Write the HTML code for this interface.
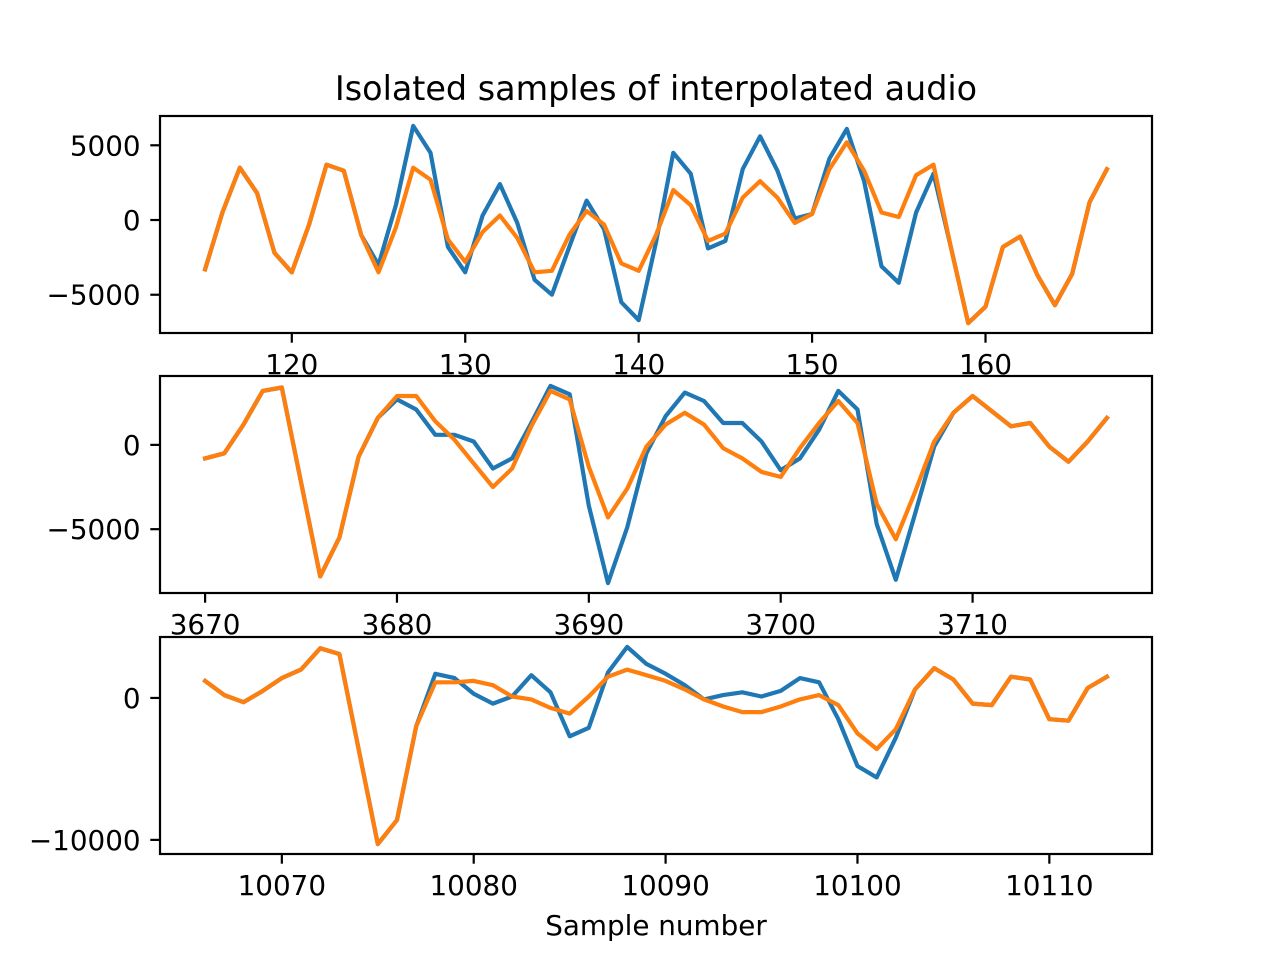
<!DOCTYPE html>
<html><head><meta charset="utf-8"><style>
body{margin:0;background:#fff}
svg{display:block;font-family:"DejaVu Sans","Liberation Sans",sans-serif}
</style></head><body>
<svg id="chart" width="1280" height="960" xmlns="http://www.w3.org/2000/svg">
<rect width="1280" height="960" fill="#fff"/>
<text x="656" y="100" font-size="33.4" text-anchor="middle">Isolated samples of interpolated audio</text>
<text x="656" y="935" font-size="27.8" text-anchor="middle">Sample number</text>
</svg>
<script>
const start1 = 115;
const blue1 = [-3300,500,3500,1800,-2200,-3500,-300,3700,3300,-1000,-3000,1000,6300,4500,-1800,-3500,300,2400,-200,-4000,-5000,-1800,1300,-600,-5500,-6700,-1500,4500,3100,-1900,-1400,3400,5600,3300,100,400,4100,6100,2600,-3100,-4200,500,3100,-1800,-6900,-5800,-1800,-1100,-3700,-5700,-3600,1200,3400];
const orange1 = [-3300,500,3500,1800,-2200,-3500,-300,3700,3300,-1000,-3500,-500,3500,2700,-1300,-2800,-800,300,-1200,-3500,-3400,-1000,600,-300,-2900,-3400,-1000,2000,1000,-1400,-900,1500,2600,1500,-200,400,3400,5200,3300,500,200,3000,3700,-1800,-6900,-5800,-1800,-1100,-3700,-5700,-3600,1200,3400];
const xticks1 = [120,130,140,150,160];
const yticks1 = [5000,0,-5000];

const start2 = 3670;
const blue2 = [-800,-500,1200,3200,3400,-2200,-7800,-5500,-700,1600,2700,2100,600,600,200,-1400,-800,1300,3500,3000,-3600,-8200,-4900,-500,1700,3100,2600,1300,1300,200,-1500,-800,900,3200,2100,-4700,-8000,-4100,-100,1900,2900,2000,1100,1300,-100,-1000,200,1600];
const orange2 = [-800,-500,1200,3200,3400,-2200,-7800,-5500,-700,1600,2900,2900,1400,300,-1100,-2500,-1400,1100,3200,2700,-1300,-4300,-2600,-100,1200,1900,1200,-200,-800,-1600,-1900,-200,1300,2600,1300,-3500,-5600,-2800,200,1900,2900,2000,1100,1300,-100,-1000,200,1600];
const xticks2 = [3670,3680,3690,3700,3710];
const yticks2 = [0,-5000];

const start3 = 10066;
const blue3 = [1200,200,-300,500,1400,2000,3500,3100,-3600,-10300,-8600,-2000,1700,1400,300,-400,100,1600,400,-2700,-2100,1800,3600,2400,1700,900,-100,200,400,100,500,1400,1100,-1500,-4800,-5600,-2800,600,2100,1300,-400,-500,1500,1300,-1500,-1600,700,1500];
const orange3 = [1200,200,-300,500,1400,2000,3500,3100,-3600,-10300,-8600,-2000,1100,1100,1200,900,100,-100,-700,-1100,100,1500,2000,1600,1200,600,-100,-600,-1000,-1000,-600,-100,200,-500,-2500,-3600,-2200,600,2100,1300,-400,-500,1500,1300,-1500,-1600,700,1500];
const xticks3 = [10070,10080,10090,10100,10110];
const yticks3 = [0,-10000];

const NS = "http://www.w3.org/2000/svg";
const svg = document.getElementById('chart');
function mk(tag, attrs){const e=document.createElementNS(NS,tag);for(const k in attrs)e.setAttribute(k,attrs[k]);svg.appendChild(e);return e;}
function fmt(v){return v<0?'\u2212'+(-v):String(v);}

function panel(idx, top, start, blue, orange, xt, yt){
  const L=160,R=1152,T=top,B=top+217;
  const n=blue.length;
  const x0=start, x1=start+n-1, xm=(x1-x0)*0.05;
  const all=blue.concat(orange);
  const mn=Math.min(...all), mx=Math.max(...all), ym=(mx-mn)*0.05;
  const sx=v=>L+(v-(x0-xm))/((x1+xm)-(x0-xm))*(R-L);
  const sy=v=>B-(v-(mn-ym))/((mx+ym)-(mn-ym))*(B-T);
  [[blue,'#1f77b4','blue'],[orange,'#ff7f0e','orange']].forEach(([arr,col,nm])=>{
    const pts=arr.map((v,i)=>sx(start+i).toFixed(1)+','+sy(v).toFixed(1)).join(' ');
    const p=mk('polyline',{points:pts,fill:'none',stroke:col,'stroke-width':4.2,'stroke-linejoin':'round','stroke-linecap':'square'});
    
    
  });
  const fr=mk('rect',{x:L,y:T,width:R-L,height:B-T,fill:'none',stroke:'#000','stroke-width':2.2});
  
  
  xt.forEach(v=>{
    const x=sx(v);
    mk('line',{x1:x,x2:x,y1:B,y2:B+9.7,stroke:'#000','stroke-width':2.2});
    const t=mk('text',{x:x,y:B+41,'font-size':27.8,'text-anchor':'middle'});
    t.textContent=fmt(v);
    
    
  });
  yt.forEach(v=>{
    const y=sy(v);
    mk('line',{x1:L-9.7,x2:L,y1:y,y2:y,stroke:'#000','stroke-width':2.2});
    const t=mk('text',{x:L-19.4,y:y+10,'font-size':27.8,'text-anchor':'end'});
    t.textContent=fmt(v);
    
    
  });
}
panel(1,116,start1,blue1,orange1,xticks1,yticks1);
panel(2,376,start2,blue2,orange2,xticks2,yticks2);
panel(3,637,start3,blue3,orange3,xticks3,yticks3);
</script>
</body></html>
